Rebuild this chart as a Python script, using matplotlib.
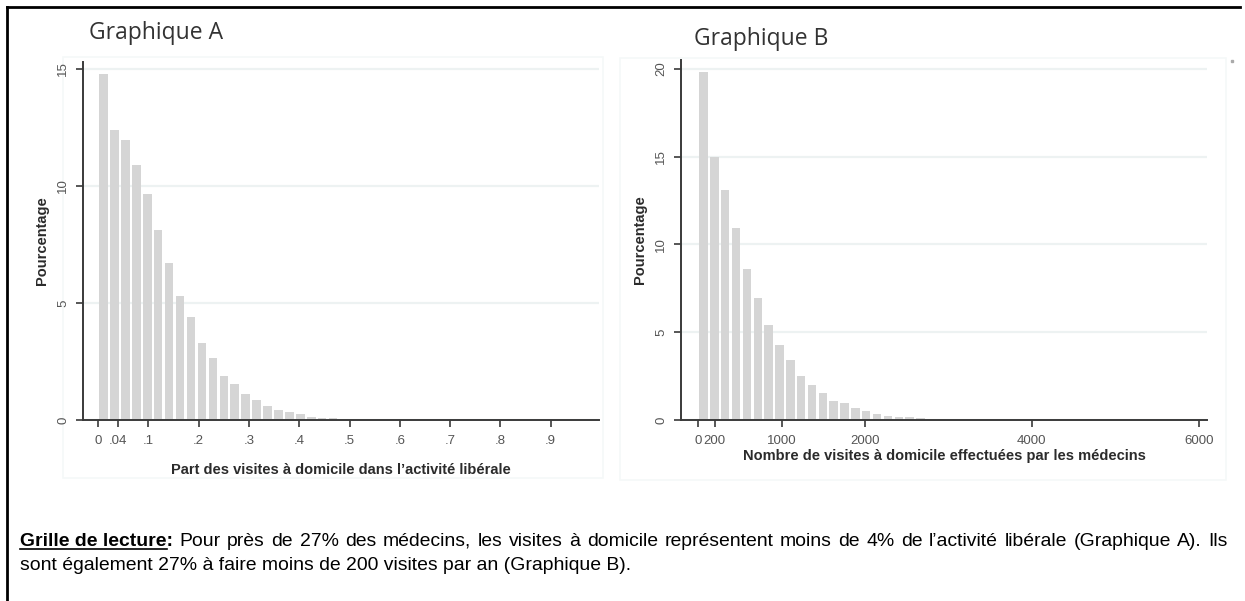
import numpy as np
import matplotlib
matplotlib.use("Agg")
import matplotlib.pyplot as plt
from matplotlib.lines import Line2D
from matplotlib.patches import Rectangle

# ---------------- data ----------------
# Graphique A : part des visites à domicile (bins of width 1/46)
a_bin_width = 1 / 46
a_values = [14.8, 12.4, 11.95, 10.9, 9.65, 8.1, 6.7, 5.3, 4.4, 3.3, 2.65, 1.9,
            1.55, 1.1, 0.85, 0.6, 0.43, 0.34, 0.26, 0.11, 0.09, 0.07, 0.06, 0.03]
a_ticks = [0, 0.04, 0.1, 0.2, 0.3, 0.4, 0.5, 0.6, 0.7, 0.8, 0.9]
a_ticklabels = ["0", ".04", ".1", ".2", ".3", ".4", ".5", ".6", ".7", ".8", ".9"]
a_yticks = [0, 5, 10, 15]

# Graphique B : nombre de visites à domicile (bins of width ~130)
b_bin_width = 130
b_values = [19.8, 15.0, 13.1, 10.95, 8.6, 6.95, 5.4, 4.25, 3.4, 2.5, 2.0, 1.55,
            1.1, 0.95, 0.7, 0.5, 0.34, 0.25, 0.19, 0.15, 0.1, 0.08, 0.05]
b_ticks = [0, 200, 1000, 2000, 4000, 6000]
b_ticklabels = ["0", "200", "1000", "2000", "4000", "6000"]
b_yticks = [0, 5, 10, 15, 20]

title_a = "Graphique A"
title_b = "Graphique B"
xlabel_a = "Part des visites à domicile dans l\u2019activité libérale"
xlabel_b = "Nombre de visites à domicile effectuées par les médecins"
ylabel = "Pourcentage"
note_bold = "Grille de lecture:"
note_line1 = ("Pour près de 27% des médecins, les visites à domicile représentent moins de 4% "
              "de l\u2019activité libérale (Graphique A). Ils")
note_line2 = "sont également 27% à faire moins de 200 visites par an (Graphique B)."

# ---------------- figure ----------------
W, H = 1245, 601
fig = plt.figure(figsize=(W / 100, H / 100), dpi=100)
fig.patch.set_facecolor("white")

BAR = "#d5d5d5"
AX = "#3a3a3a"
GRID = "#edf2f2"
TXT = "#2b2b2b"
tick_font = dict(family=["Liberation Sans", "DejaVu Sans"], size=9.5, color="#555555")
lab_font = dict(family=["Liberation Sans", "DejaVu Sans"], weight="bold", color=TXT)


def px_rect(x0, y0, x1, y1):
    return [x0 / W, 1 - y1 / H, (x1 - x0) / W, (y1 - y0) / H]


def panel(x0, y0, x1, y1):
    r = px_rect(x0, y0, x1, y1)
    fig.add_artist(Rectangle((r[0], r[1]), r[2], r[3], transform=fig.transFigure,
                             facecolor="white", edgecolor="#f5f8f8", linewidth=1.2,
                             zorder=-5))


def style(ax, xticks, xlabels, yticks, ylim, xlim):
    ax.set_xlim(*xlim)
    ax.set_ylim(*ylim)
    ax.patch.set_alpha(0)
    for s in ["top", "right"]:
        ax.spines[s].set_visible(False)
    for s in ["left", "bottom"]:
        ax.spines[s].set_color(AX)
        ax.spines[s].set_linewidth(1.4)
    ax.set_xticks(xticks)
    ax.set_xticklabels(xlabels, **tick_font)
    ax.set_yticks(yticks)
    ax.set_yticklabels([str(v) for v in yticks], rotation=90, va="center", **tick_font)
    ax.tick_params(axis="both", direction="out", length=5, width=1.2, color=AX)
    ax.tick_params(axis="x", pad=6)
    ax.tick_params(axis="y", pad=5)
    ax.yaxis.grid(True, color=GRID, linewidth=1.6)
    ax.set_axisbelow(True)


# faint graph regions
panel(63, 57, 603, 478)
panel(620, 58, 1226, 480)

# ---- Graphique A ----
axA = fig.add_axes(px_rect(83, 62, 599, 420))
a_left = np.arange(len(a_values)) * a_bin_width
axA.bar(a_left + a_bin_width / 2, a_values, width=a_bin_width * 0.78, color=BAR,
        edgecolor="none")
style(axA, a_ticks, a_ticklabels, a_yticks, (0, 15.3), (-0.030, 0.996))
axA.set_xlabel(xlabel_a, fontsize=10.5, labelpad=11, **lab_font)
axA.set_ylabel(ylabel, fontsize=10.5, labelpad=6, **lab_font)

# ---- Graphique B ----
axB = fig.add_axes(px_rect(681, 60, 1207, 420))
b_left = np.arange(len(b_values)) * b_bin_width
axB.bar(b_left + b_bin_width / 2, b_values, width=b_bin_width * 0.78, color=BAR,
        edgecolor="none")
style(axB, b_ticks, b_ticklabels, b_yticks, (0, 20.5), (-205, 6100))
axB.set_xlabel(xlabel_b, fontsize=10.5, labelpad=1, **lab_font)
axB.set_ylabel(ylabel, fontsize=10.5, labelpad=6, **lab_font)

# titles
title_font = dict(family=["Open Sans", "DejaVu Sans"], size=16.5, color="#333333")
fig.text(89 / W, 1 - 33 / H, title_a, ha="left", va="center", **title_font)
fig.text(694 / W, 1 - 39 / H, title_b, ha="left", va="center", **title_font)

# small artefact dot at top right of panel B
fig.add_artist(Line2D([1232 / W], [1 - 61 / H], marker="s", markersize=2,
                      color="#aaaaaa", transform=fig.transFigure))

# outer frame (top and left)
fig.add_artist(Line2D([7 / W, 7 / W], [0, 1 - 7 / H], color="black", linewidth=2,
                      transform=fig.transFigure))
fig.add_artist(Line2D([7 / W, 1240 / W], [1 - 7 / H, 1 - 7 / H], color="black",
                      linewidth=2, transform=fig.transFigure))

# ---------------- justified note ----------------
note_family = ["Liberation Sans", "DejaVu Sans"]
x_left, x_right = 20, 1228
y1, y2 = 541, 565
renderer = fig.canvas.get_renderer()

# fit the font size so that line 1 naturally almost fills the text width
probe = fig.text(0, 0, note_bold + " " + note_line1, family=note_family, size=10,
                 weight="normal")
nat = probe.get_window_extent(renderer).width
probe.remove()
note_size = 10 * (x_right - x_left) * 0.975 / nat

tokens = [(note_bold, "bold")] + [(w, "normal") for w in note_line1.split()]
objs = []
widths = []
for word, wt in tokens:
    t = fig.text(0, 0, word, family=note_family, size=note_size, weight=wt,
                 color="black", ha="left", va="center")
    bb = t.get_window_extent(renderer)
    objs.append(t)
    widths.append(bb.width)
gap = (x_right - x_left - sum(widths)) / (len(tokens) - 1)
x = x_left
for t, w in zip(objs, widths):
    t.set_position((x / W, 1 - y1 / H))
    x += w + gap

# underline of "Grille de lecture"
ul = fig.text(0, 0, "Grille de lecture", family=note_family, size=note_size,
              weight="bold")
ulw = ul.get_window_extent(renderer).width
ul.remove()
fig.add_artist(Line2D([x_left / W, (x_left + ulw) / W], [1 - (y1 + 8) / H] * 2,
                      color="black", linewidth=1.2, transform=fig.transFigure))

fig.text(x_left / W, 1 - y2 / H, note_line2, family=note_family, size=note_size,
         color="black", ha="left", va="center")

fig.savefig("out.png", dpi=100, facecolor="white")
